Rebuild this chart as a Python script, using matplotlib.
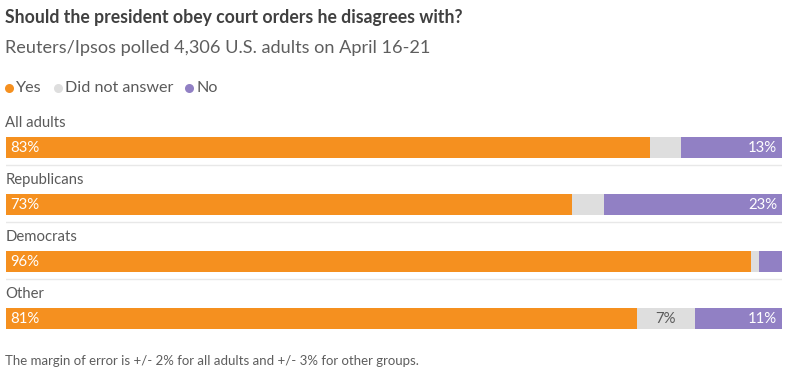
import matplotlib
matplotlib.use("Agg")
import matplotlib.pyplot as plt
from matplotlib.lines import Line2D

categories = ["All adults", "Republicans", "Democrats", "Other"]
yes = [83.0, 73.0, 96.0, 81.3]
no_answer = [4.0, 4.0, 1.0, 7.5]
no = [13.0, 23.0, 3.0, 11.2]
yes_labels = ["83%", "73%", "96%", "81%"]
na_labels = ["", "", "", "7%"]
no_labels = ["13%", "23%", "", "11%"]

title = "Should the president obey court orders he disagrees with?"
subtitle = "Reuters/Ipsos polled 4,306 U.S. adults on April 16-21"
footer = "The margin of error is +/- 2% for all adults and +/- 3% for other groups."
series_names = ["Yes", "Did not answer", "No"]

C_YES = "#F5901F"
C_NA = "#DEDEDE"
C_NO = "#9180C4"
TXT = "#404040"
FONT = "Lato"

W, H = 788, 380
fig = plt.figure(figsize=(W / 100, H / 100), dpi=100)
fig.patch.set_facecolor("white")

def fx(px):
    return px / W

def fy(py):
    return 1 - py / H

fig.text(fx(5), fy(17), title, fontsize=12.7, fontweight="bold", color=TXT,
         family=FONT, va="center", ha="left")
fig.text(fx(5), fy(48), subtitle, fontsize=13.1, color="#5e5e5e",
         family=FONT, va="center", ha="left")
fig.text(fx(5), fy(361), footer, fontsize=9.55, color="#5e5e5e", family=FONT,
         va="center", ha="left")

# legend
fig.canvas.draw()
renderer = fig.canvas.get_renderer()
x = 9
for name, col in zip(series_names, [C_YES, C_NA, C_NO]):
    fig.add_artist(Line2D([fx(x)], [fy(88)], marker="o", markersize=6.5,
                          color=col, markeredgewidth=0, transform=fig.transFigure))
    t = fig.text(fx(x + 7), fy(88), name, fontsize=11.6, color="#5a5a5a",
                 family=FONT, va="center", ha="left")
    bb = t.get_window_extent(renderer)
    x = x + 7 + bb.width + 16

# bars
left_px, right_px = 6, 782
top_px, bot_px = 110, 340
ax = fig.add_axes([fx(left_px), fy(bot_px), (right_px - left_px) / W,
                   (bot_px - top_px) / H])
step = 57.0
c0 = 147.5
ax.set_ylim((bot_px - c0) / step, (top_px - c0) / step)
ax.set_xlim(0, 100)
ax.axis("off")

bh = 21 / step
for i, cat in enumerate(categories):
    tot = yes[i] + no_answer[i] + no[i]
    y1 = yes[i] / tot * 100
    n1 = no_answer[i] / tot * 100
    o1 = no[i] / tot * 100
    ax.barh(i, y1, left=0, height=bh, color=C_YES, linewidth=0)
    ax.barh(i, n1, left=y1, height=bh, color=C_NA, linewidth=0)
    ax.barh(i, o1, left=y1 + n1, height=bh, color=C_NO, linewidth=0)
    ax.text(-0.1, i - 24.5 / step, cat, fontsize=10.7, color="#5a5a5a", family=FONT,
            va="center", ha="left")
    ax.text(0.6, i + 0.01, yes_labels[i], fontsize=10.7, color="white",
            family=FONT, va="center", ha="left")
    if na_labels[i]:
        ax.text(y1 + n1 / 2, i + 0.01, na_labels[i], fontsize=10.7, color="#5a5a5a",
                family=FONT, va="center", ha="center")
    if no_labels[i]:
        ax.text(99.4, i + 0.01, no_labels[i], fontsize=10.7, color="white",
                family=FONT, va="center", ha="right")
    if i < len(categories) - 1:
        ax.axhline(i + 17 / step, color="#E8E8E8", linewidth=1)

fig.savefig("out.png", dpi=100, facecolor="white")
